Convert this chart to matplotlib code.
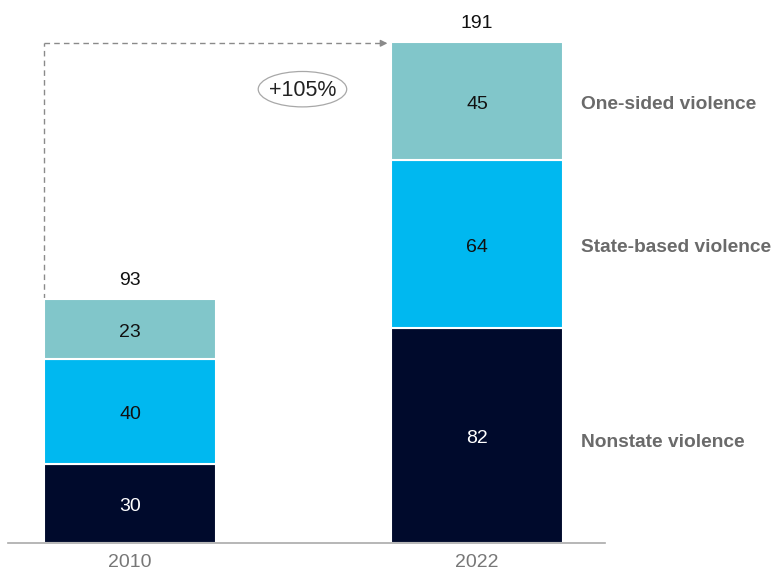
import matplotlib
matplotlib.use("Agg")
import matplotlib.pyplot as plt
from matplotlib.patches import Ellipse, FancyArrowPatch

years = ["2010", "2022"]
series = ["Nonstate violence", "State-based violence", "One-sided violence"]
nonstate = [30, 82]
state_based = [40, 64]
one_sided = [23, 45]
totals = [93, 191]
change_label = "+105%"

colors = ["#000A2C", "#00B8F0", "#81C6CA"]
text_colors = ["white", "#111111", "#111111"]

plt.rcParams["font.family"] = ["Liberation Sans", "DejaVu Sans"]

W, H = 773, 570
fig = plt.figure(figsize=(W / 100, H / 100), dpi=100)
ax = fig.add_axes([8 / W, 27 / H, 597 / W, 543 / H])

x = [0, 1]
width = 0.496
nudge = -1.2  # optical centring of labels inside segments
bottoms = [0, 0]
for vals, col, tcol in zip([nonstate, state_based, one_sided], colors, text_colors):
    ax.bar(x, vals, width=width, bottom=bottoms, color=col,
           edgecolor="white", linewidth=1.5, zorder=2)
    for xi, v, b in zip(x, vals, bottoms):
        ax.text(xi, b + v / 2 + nudge, str(v), ha="center", va="center",
                fontsize=14, color=tcol, zorder=3)
    bottoms = [b + v for b, v in zip(bottoms, vals)]

for xi, t in zip(x, totals):
    ax.text(xi, t + 3.8, str(t), ha="center", va="bottom",
            fontsize=14, color="#111111")

# Series labels to the right of the latest bar
label_y = [nonstate[1] / 2 - 1.5, nonstate[1] + state_based[1] / 2,
           nonstate[1] + state_based[1] + one_sided[1] / 2]
for name, yv in zip(series, label_y):
    ax.text(1 + width / 2 + 0.052, yv + nudge, name, ha="left", va="center",
            fontsize=13.8, fontweight="bold", color="#6A6A6A", clip_on=False)

# Dashed growth connector from the first total to the second
left = x[0] - width / 2
right = x[1] - width / 2
top = totals[1] - 0.5
ax.plot([left, left], [totals[0], top], ls=(0, (4, 3)), color="#8A8A8A",
        lw=1.0, zorder=1)
ax.plot([left, right - 0.02], [top, top], ls=(0, (4, 3)), color="#8A8A8A",
        lw=1.0, zorder=1)
ax.add_patch(FancyArrowPatch((right - 0.03, top), (right - 0.002, top),
                             arrowstyle="-|>", mutation_scale=10,
                             color="#8A8A8A", lw=1.0, zorder=1))

ex, ey = 0.497, 173
ax.add_patch(Ellipse((ex, ey), width=0.255, height=13.5, fill=False,
                     edgecolor="#A8A8A8", lw=0.9, zorder=3))
ax.text(ex, ey - 0.4, change_label, ha="center", va="center", fontsize=15.5,
        color="#222222", zorder=4)

ax.set_xlim(-0.3516, 1.3689)
ax.set_ylim(0, 207)
ax.set_xticks(x)
ax.set_xticklabels(years, fontsize=14, color="#777777")
ax.tick_params(axis="x", length=0, pad=8)
ax.set_yticks([])
for s in ["top", "right", "left"]:
    ax.spines[s].set_visible(False)
ax.spines["bottom"].set_color("#AAAAAA")
ax.spines["bottom"].set_linewidth(1.2)

fig.savefig("out.png", dpi=100)
